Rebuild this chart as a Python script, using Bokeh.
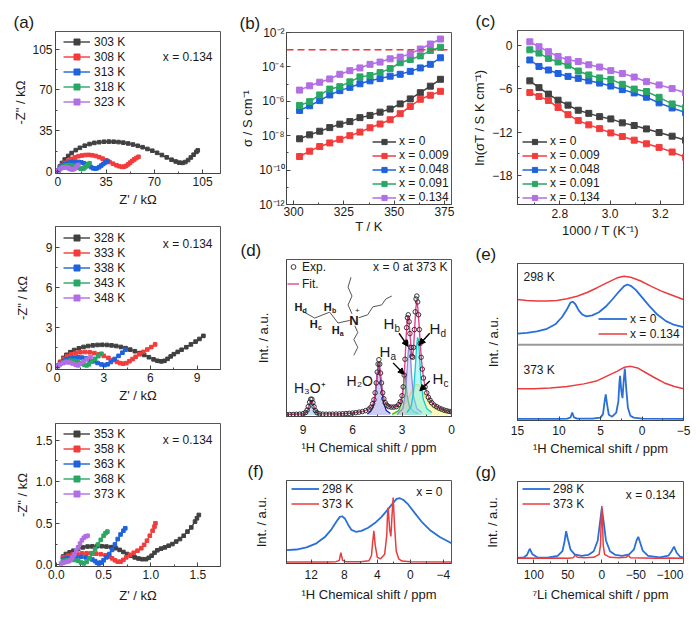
import math
from bokeh.plotting import figure
from bokeh.layouts import row, column
from bokeh.models import (Range1d, FixedTicker, Label, Legend, LegendItem, Span,
                          Arrow, NormalHead, PrintfTickFormatter)
from bokeh.embed import file_html
from bokeh.resources import INLINE
from bokeh.core.properties import value

FONT = "Liberation Sans"
TXT = "#1a1a1a"
C_BLACK = "#404040"
C_RED = "#f23c3c"
C_BLUE = "#1f62dc"
C_GREEN = "#2aa764"
C_PURPLE = "#b26ee4"
SER_COLORS = [C_BLACK, C_RED, C_BLUE, C_GREEN, C_PURPLE]
S_BLUE = "#2a6fd8"
S_RED = "#ea3b3e"

# ---------------- (a) Nyquist data, x = 0.134 ----------------
a1_temps = ["303 K", "308 K", "313 K", "318 K", "323 K"]
re_303 = [0.3, 1.5, 3.0, 5.0, 7.5, 10.0, 13.0, 16.0, 19.5, 23.0, 26.5, 30.0, 33.5, 37.0, 40.5, 44.0, 47.5, 51.0, 54.5, 58.0, 61.5, 65.0, 68.5, 72.0, 75.5, 79.0, 82.5, 85.5, 88.0, 90.5, 92.5, 94.5, 96.5, 98.5, 100.5, 101.5]
im_303 = [1.0, 4.5, 7.5, 10.5, 13.5, 16.0, 18.5, 20.5, 22.3, 23.7, 24.7, 25.3, 25.7, 25.8, 25.7, 25.4, 24.9, 24.2, 23.3, 22.2, 21.0, 19.5, 18.0, 16.2, 14.3, 12.3, 10.3, 8.8, 7.8, 7.6, 8.3, 10.0, 12.2, 14.6, 17.0, 18.3]
re_308 = [0.3, 1.5, 3.0, 5.0, 7.5, 10.0, 12.5, 15.0, 17.5, 20.0, 22.5, 25.0, 27.5, 30.0, 32.5, 35.0, 37.5, 40.0, 42.5, 44.5, 46.5, 48.0, 49.5, 51.0, 52.5, 54.0, 55.5, 57.0, 58.5]
im_308 = [1.0, 3.5, 5.6, 7.6, 9.5, 11.0, 12.3, 13.3, 13.9, 14.3, 14.4, 14.1, 13.5, 12.5, 11.2, 9.8, 8.3, 6.9, 5.6, 4.7, 4.2, 4.3, 5.0, 6.3, 7.8, 9.3, 10.6, 11.8, 12.8]
re_313 = [0.3, 1.5, 3.0, 5.0, 7.0, 9.0, 11.0, 13.0, 15.0, 17.0, 19.0, 21.0, 22.5, 24.0, 25.5, 27.0, 28.5, 30.0, 31.5, 33.0, 34.5, 36.0]
im_313 = [1.0, 3.0, 4.8, 6.3, 7.3, 8.0, 8.4, 8.5, 8.4, 8.0, 7.3, 6.3, 5.2, 4.0, 3.0, 2.6, 3.0, 4.0, 5.3, 6.7, 8.0, 9.2]
re_318 = [0.3, 1.5, 3.0, 4.5, 6.0, 7.5, 9.0, 10.5, 12.0, 13.5, 15.0, 16.5, 18.0, 19.0, 20.0, 21.0, 22.0, 23.0]
im_318 = [1.0, 2.6, 3.9, 4.8, 5.3, 5.6, 5.6, 5.4, 5.0, 4.3, 3.4, 2.7, 2.5, 3.0, 4.0, 5.2, 6.3, 7.3]
re_323 = [0.3, 1.2, 2.4, 3.6, 4.8, 6.0, 7.2, 8.4, 9.6, 10.8, 12.0, 13.0, 14.0, 14.8]
im_323 = [1.0, 2.0, 3.0, 3.6, 3.9, 3.8, 3.4, 2.7, 2.1, 1.9, 2.5, 3.6, 4.8, 5.8]

a2_temps = ["328 K", "333 K", "338 K", "343 K", "348 K"]
re_328 = [0.05, 0.2, 0.4, 0.6, 0.85, 1.1, 1.4, 1.7, 2.0, 2.3, 2.6, 2.9, 3.2, 3.5, 3.8, 4.1, 4.4, 4.7, 5.0, 5.3, 5.6, 5.9, 6.2, 6.45, 6.7, 6.9, 7.1, 7.3, 7.5, 7.75, 8.0, 8.3, 8.6, 8.9, 9.15, 9.4]
im_328 = [0.15, 0.45, 0.75, 0.98, 1.18, 1.34, 1.47, 1.57, 1.64, 1.69, 1.72, 1.73, 1.72, 1.69, 1.64, 1.57, 1.48, 1.37, 1.25, 1.11, 0.97, 0.80, 0.64, 0.53, 0.49, 0.53, 0.68, 0.86, 1.03, 1.20, 1.36, 1.55, 1.76, 1.97, 2.17, 2.40]
re_333 = [0.05, 0.2, 0.4, 0.65, 0.9, 1.2, 1.5, 1.8, 2.1, 2.4, 2.7, 3.0, 3.3, 3.6, 3.85, 4.05, 4.25, 4.45, 4.65, 4.85, 5.05, 5.3, 5.55, 5.8, 6.05, 6.3]
im_333 = [0.15, 0.42, 0.68, 0.88, 1.02, 1.12, 1.17, 1.19, 1.17, 1.11, 1.02, 0.90, 0.75, 0.58, 0.45, 0.36, 0.32, 0.36, 0.50, 0.66, 0.83, 1.02, 1.20, 1.38, 1.56, 1.76]
re_338 = [0.05, 0.2, 0.4, 0.6, 0.85, 1.1, 1.35, 1.6, 1.85, 2.1, 2.35, 2.6, 2.85, 3.05, 3.25, 3.45, 3.7, 3.95, 4.2, 4.4]
im_338 = [0.15, 0.35, 0.50, 0.62, 0.71, 0.77, 0.79, 0.77, 0.71, 0.62, 0.50, 0.37, 0.26, 0.21, 0.27, 0.44, 0.67, 0.90, 1.14, 1.36]
re_343 = [0.05, 0.2, 0.4, 0.6, 0.85, 1.1, 1.35, 1.55, 1.75, 1.9, 2.05, 2.25, 2.45, 2.65, 2.85]
im_343 = [0.15, 0.30, 0.42, 0.50, 0.55, 0.54, 0.47, 0.36, 0.23, 0.19, 0.27, 0.48, 0.68, 0.88, 1.06]
re_348 = [0.05, 0.2, 0.4, 0.6, 0.8, 1.0, 1.2, 1.35, 1.5, 1.7, 1.9, 2.15]
im_348 = [0.15, 0.27, 0.36, 0.42, 0.41, 0.33, 0.23, 0.19, 0.30, 0.48, 0.64, 0.81]

a3_temps = ["353 K", "358 K", "363 K", "368 K", "373 K"]
re_353 = [0.07, 0.10, 0.14, 0.18, 0.23, 0.28, 0.33, 0.38, 0.43, 0.48, 0.53, 0.58, 0.63, 0.67, 0.71, 0.75, 0.79, 0.83, 0.87, 0.91, 0.95, 0.98, 1.01, 1.04, 1.07, 1.11, 1.15, 1.19, 1.23, 1.27, 1.31, 1.35, 1.39, 1.43, 1.47, 1.49, 1.51]
im_353 = [0.10, 0.13, 0.15, 0.17, 0.19, 0.21, 0.22, 0.222, 0.224, 0.224, 0.22, 0.213, 0.20, 0.18, 0.155, 0.13, 0.11, 0.09, 0.076, 0.068, 0.068, 0.085, 0.11, 0.145, 0.175, 0.195, 0.21, 0.23, 0.25, 0.28, 0.31, 0.35, 0.40, 0.45, 0.52, 0.56, 0.60]
re_358 = [0.07, 0.12, 0.17, 0.22, 0.27, 0.32, 0.37, 0.42, 0.47, 0.52, 0.56, 0.59, 0.62, 0.65, 0.68, 0.71, 0.74, 0.78, 0.82, 0.86, 0.90, 0.93, 0.96, 0.99, 1.02, 1.04, 1.05]
im_358 = [0.09, 0.11, 0.125, 0.133, 0.138, 0.14, 0.14, 0.135, 0.128, 0.115, 0.098, 0.078, 0.055, 0.038, 0.038, 0.06, 0.09, 0.12, 0.145, 0.17, 0.20, 0.24, 0.29, 0.35, 0.41, 0.46, 0.50]
re_363 = [0.07, 0.11, 0.16, 0.21, 0.26, 0.31, 0.35, 0.38, 0.41, 0.43, 0.45, 0.47, 0.50, 0.53, 0.56, 0.59, 0.62, 0.65, 0.68, 0.71, 0.73]
im_363 = [0.068, 0.08, 0.088, 0.094, 0.096, 0.09, 0.08, 0.064, 0.045, 0.025, 0.016, 0.027, 0.055, 0.09, 0.13, 0.18, 0.245, 0.31, 0.365, 0.41, 0.44]
re_368 = [0.07, 0.11, 0.15, 0.19, 0.23, 0.26, 0.29, 0.32, 0.35, 0.38, 0.41, 0.44, 0.47, 0.50, 0.52, 0.54]
im_368 = [0.048, 0.055, 0.06, 0.058, 0.048, 0.028, 0.017, 0.035, 0.08, 0.135, 0.19, 0.245, 0.30, 0.35, 0.38, 0.40]
re_373 = [0.05, 0.07, 0.09, 0.11, 0.13, 0.15, 0.17, 0.19, 0.21, 0.23, 0.25, 0.27, 0.29, 0.31, 0.33]
im_373 = [0.016, 0.024, 0.032, 0.037, 0.043, 0.058, 0.09, 0.125, 0.17, 0.21, 0.255, 0.295, 0.325, 0.342, 0.35]

# ---------------- (b)/(c) conductivity ----------------
T_K = [303, 308, 313, 318, 323, 328, 333, 338, 343, 348, 353, 358, 363, 368, 373]
comp_labels = ["x = 0", "x = 0.009", "x = 0.048", "x = 0.091", "x = 0.134"]
log_sigma_x0 = [-8.18, -7.95, -7.74, -7.53, -7.33, -7.18, -6.95, -6.82, -6.63, -6.45, -6.15, -5.86, -5.50, -5.12, -4.72]
log_sigma_x009 = [-9.21, -8.90, -8.63, -8.42, -8.21, -8.00, -7.79, -7.54, -7.32, -7.07, -6.72, -6.30, -5.88, -5.65, -5.42]
log_sigma_x048 = [-6.53, -6.26, -5.96, -5.63, -5.38, -5.19, -4.98, -4.81, -4.68, -4.54, -4.43, -4.26, -4.06, -3.85, -3.47]
log_sigma_x091 = [-6.24, -6.02, -5.63, -5.29, -5.15, -4.87, -4.58, -4.50, -4.33, -4.10, -3.76, -3.57, -3.36, -3.05, -2.86]
log_sigma_x134 = [-5.35, -5.10, -4.89, -4.70, -4.43, -4.22, -4.06, -3.85, -3.72, -3.53, -3.43, -3.24, -2.96, -2.67, -2.38]
sigma_ref = 1e-3

# ---------------- (d) 1H NMR fit, x = 0 at 373 K ----------------
d_exp_ppm = [10.0, 9.8, 9.6, 9.4, 9.2, 9.0, 8.85, 8.75, 8.68, 8.6, 8.53, 8.46, 8.4, 8.33, 8.25, 8.15, 8.0, 7.8, 7.6, 7.4,
             7.2, 7.0, 6.8, 6.6, 6.4, 6.2, 6.0, 5.8, 5.6, 5.4, 5.2, 5.0, 4.88, 4.78, 4.7, 4.63, 4.56, 4.5, 4.45, 4.4,
             4.35, 4.3, 4.24, 4.17, 4.1, 4.02, 3.92, 3.8, 3.65, 3.5, 3.35, 3.2, 3.1, 3.0, 2.93, 2.87, 2.82, 2.77, 2.72, 2.67,
             2.62, 2.57, 2.52, 2.46, 2.4, 2.35, 2.3, 2.25, 2.2, 2.15, 2.1, 2.05, 2.0, 1.95, 1.9, 1.84, 1.77, 1.7, 1.6, 1.5,
             1.4, 1.3, 1.2, 1.05, 0.9, 0.75, 0.6, 0.45, 0.3, 0.15, 0.0]
d_exp_int = [2.0, 2.0, 2.1, 2.2, 2.4, 2.8, 4, 6.5, 10, 14.5, 17.5, 17.5, 14, 10, 6, 3.8, 2.8, 2.4, 2.3, 2.3,
             2.4, 2.5, 2.6, 2.8, 3.0, 3.2, 3.5, 3.9, 4.4, 5.0, 6.0, 7.5, 9.5, 13, 17, 24, 34, 45, 53, 57.5,
             53, 44, 34, 24, 18, 14, 11.5, 10, 9.5, 9.5, 10, 12, 15, 21, 30, 42, 58, 75, 90, 100,
             103, 96, 84, 70, 61, 60, 70, 88, 106, 119, 122, 116, 103, 88, 74, 60, 48, 39, 30, 24,
             19.5, 16.5, 14, 11.5, 10, 8.5, 7.5, 6.5, 5.8, 5.2, 4.7]
d_fit_ppm = [10.0, 9.0, 8.8, 8.7, 8.6, 8.5, 8.4, 8.3, 8.15, 8.0, 7.0, 6.0, 5.4, 5.0, 4.8, 4.7, 4.6, 4.5, 4.42, 4.35,
             4.25, 4.15, 4.05, 3.9, 3.7, 3.5, 3.3, 3.15, 3.0, 2.9, 2.82, 2.75, 2.68, 2.63, 2.57, 2.5, 2.43, 2.37, 2.3, 2.23,
             2.16, 2.1, 2.04, 1.97, 1.9, 1.82, 1.72, 1.6, 1.45, 1.3, 1.1, 0.9, 0.6, 0.3, 0.0]
d_fit_int = [2.0, 2.8, 4.5, 7, 13, 16.5, 13.5, 8, 4, 2.9, 2.5, 3.5, 5, 7.5, 11, 16, 27, 43, 54, 51,
             35, 22, 15, 11.5, 9.8, 9.5, 10.5, 13, 20, 33, 55, 80, 98, 102, 95, 80, 66, 60, 68, 90,
             110, 117, 110, 94, 76, 57, 42, 30, 22, 16.5, 12.5, 10, 7.5, 5.8, 4.7]
h3o_ppm = [9.0, 8.8, 8.7, 8.6, 8.5, 8.4, 8.3, 8.2, 8.0]
h3o_int = [2, 4, 7, 13, 16.5, 13, 7, 4, 2]
h2o_ppm = [5.1, 4.9, 4.75, 4.62, 4.52, 4.42, 4.34, 4.24, 4.12, 3.95, 3.7]
h2o_int = [2.5, 5, 10, 22, 40, 54, 46, 28, 14, 6, 3]
ha_ppm = [3.6, 3.2, 3.05, 2.95, 2.88, 2.83, 2.77, 2.68, 2.55, 2.3, 2.0]
ha_int = [2, 6, 13, 25, 38, 44, 36, 20, 10, 5, 3]
hb_ppm = [3.3, 2.95, 2.8, 2.7, 2.62, 2.56, 2.5, 2.42, 2.3, 2.1, 1.8]
hb_int = [2, 8, 22, 45, 66, 73, 65, 42, 20, 8, 4]
hd_ppm = [2.7, 2.45, 2.3, 2.2, 2.12, 2.06, 2.0, 1.93, 1.85, 1.72, 1.5, 1.2]
hd_int = [4, 10, 25, 48, 70, 80, 78, 60, 36, 18, 8, 4]
hc_ppm = [3.6, 3.2, 2.9, 2.6, 2.35, 2.15, 2.0, 1.8, 1.55, 1.3, 1.0, 0.6, 0.2]
hc_int = [3, 6, 11, 19, 28, 32.5, 32, 27, 19, 12, 7.5, 5, 3.5]

# tetrabutylammonium sketch (panel d coordinates: ppm, a.u.)
mol_xs = [[9.04, 8.29, 7.38, 6.88, 6.17],
          [6.03, 6.27, 6.03, 6.27, 6.09],
          [5.62, 5.08, 4.77, 4.23, 3.98, 3.62],
          [5.86, 5.68, 5.92, 5.68, 5.92]]
mol_ys = [[106.7, 99.7, 105.7, 94.7, 97.3],
          [104, 113, 122, 131, 141],
          [100, 103, 111, 113, 119, 122],
          [92, 85, 78, 70, 62]]

# ---------------- (e) 1H spectra, x = 0 vs x = 0.134 ----------------
e298_red_ppm = [15, 13.87, 12.66, 11.46, 10.25, 9.04, 7.83, 6.62, 5.40, 4.19, 2.98, 2.17, 1.36, 0.15, -1.06, -2.27, -3.48, -5.0]
e298_red_int = [380, 377, 375, 375, 377, 382, 390, 402, 417, 433, 448, 453, 450, 438, 422, 407, 395, 380]
e298_blue_ppm = [15, 13.87, 12.66, 11.45, 10.44, 9.63, 9.02, 8.62, 8.34, 8.02, 7.61, 7.21, 6.69, 6.00, 5.19, 4.39, 3.58, 2.77, 2.16, 1.76, 1.35, 0.75, -0.06, -0.87, -1.88, -2.89, -3.90, -5.0]
e298_blue_int = [273, 275, 280, 288, 302, 325, 350, 370, 373, 365, 345, 333, 327, 330, 340, 357, 380, 405, 422, 427, 423, 410, 385, 360, 332, 312, 300, 293]
e373_red_ppm = [15, 13.06, 11.04, 9.02, 7.0, 5.38, 4.17, 2.96, 2.15, 1.35, 0.54, -0.47, -1.48, -2.70, -3.91, -5.0]
e373_red_int = [100, 100, 102, 107, 115, 125, 140, 155, 167, 170, 165, 150, 135, 118, 107, 100]
e373_blue_ppm = [15, 10, 9.0, 8.6, 8.41, 8.2, 7.8, 6.0, 5.0, 4.7, 4.5, 4.37, 4.2, 4.0, 3.6, 3.1, 2.85, 2.72, 2.64, 2.5, 2.35, 2.22, 2.07, 1.9, 1.7, 1.4, 1.0, 0.0, -5.0]
e373_blue_int = [5, 5, 6, 10, 25, 10, 6, 6, 9, 20, 60, 82, 50, 18, 12, 25, 60, 120, 140, 95, 70, 120, 163, 100, 40, 15, 9, 6, 5]
e_divider = 238

# ---------------- (f) 1H spectra x = 0 ----------------
f298_ppm = [15, 13.79, 12.58, 11.37, 10.35, 9.55, 8.94, 8.54, 8.26, 7.93, 7.53, 7.12, 6.60, 5.91, 5.10, 4.29, 3.48, 2.68, 2.07, 1.66, 1.26, 0.86, 0.25, -0.56, -1.36, -2.37, -3.58, -5.0]
f298_int = [43, 45, 52, 65, 85, 110, 135, 150, 152, 145, 125, 108, 102, 105, 115, 130, 150, 175, 195, 208, 210, 205, 190, 162, 135, 108, 85, 65]
f373_ppm = [15, 10, 9, 8.6, 8.41, 8.2, 7.8, 6, 5, 4.7, 4.55, 4.41, 4.25, 4.0, 3.6, 3.1, 2.85, 2.75, 2.68, 2.5, 2.35, 2.22, 2.07, 1.9, 1.7, 1.4, 1.0, 0, -5]
f373_int = [5, 5, 6, 10, 35, 10, 6, 6, 9, 25, 70, 105, 60, 20, 15, 30, 90, 160, 180, 110, 87, 150, 212, 120, 40, 15, 8, 6, 5]

# ---------------- (g) 7Li spectra x = 0.134 ----------------
g298_ppm = [124, 115, 110, 106, 102, 95, 80, 65, 58, 55, 52.5, 50, 46, 40, 30, 20, 12, 6, 3, 0, -3, -6, -12, -20, -30, -40, -47, -51, -53.5, -56, -60, -68, -85, -98, -102, -106, -110, -115, -120]
g298_int = [18, 20, 28, 48, 30, 20, 19, 25, 40, 70, 105, 80, 45, 30, 25, 28, 40, 75, 130, 180, 130, 75, 40, 28, 25, 30, 45, 75, 87, 70, 42, 25, 20, 26, 38, 55, 35, 22, 19]
g373_ppm = [124, 110, 90, 70, 50, 42, 39, 36, 25, 12, 4, 2, 0.8, 0, -0.8, -2, -4, -12, -25, -36, -39, -42, -60, -80, -100, -120]
g373_int = [17, 18, 17, 18, 17, 19, 28, 20, 19, 20, 30, 60, 150, 187, 150, 60, 30, 20, 19, 20, 27, 19, 18, 17, 18, 17]


# ================= helpers =================
def make_fig(w, h, xr, yr, left, right, top, bottom, y_type="linear"):
    p = figure(width=w, height=h, x_range=xr, y_range=yr, y_axis_type=y_type,
               output_backend="svg", toolbar_location=None,
               min_border_left=left, min_border_right=right,
               min_border_top=top, min_border_bottom=bottom)
    p.grid.visible = False
    p.outline_line_color = "#555555"
    p.outline_line_width = 1
    p.background_fill_color = "white"
    p.border_fill_color = "white"
    for ax in p.axis:
        ax.axis_line_color = "#444444"
        ax.major_tick_line_color = "#444444"
        ax.minor_tick_line_color = "#444444"
        ax.major_tick_in = 4
        ax.major_tick_out = 0
        ax.minor_tick_in = 2
        ax.minor_tick_out = 0
        ax.major_label_text_font = FONT
        ax.major_label_text_font_size = "12px"
        ax.major_label_text_color = TXT
        ax.axis_label_text_font = FONT
        ax.axis_label_text_font_size = "13px"
        ax.axis_label_text_font_style = "normal"
        ax.axis_label_text_color = TXT
        ax.major_label_standoff = 3
        ax.axis_label_standoff = 3
    return p


def panel_title(p, text, offset):
    p.title.text = text
    p.title.align = "left"
    p.title.offset = offset
    p.title.standoff = 0
    p.title.text_font = FONT
    p.title.text_font_size = "17px"
    p.title.text_font_style = "normal"
    p.title.text_color = TXT


def no_yticks(p, standoff):
    p.yaxis.ticker = FixedTicker(ticks=[], minor_ticks=[])
    p.yaxis.major_label_standoff = 0
    p.yaxis.axis_label_standoff = standoff


def slabel(p, text, x, y, size="12px", align="left", baseline="middle", color=TXT):
    p.add_layout(Label(x=x, y=y, x_units="screen", y_units="screen", text=text,
                       text_font=FONT, text_font_size=size, text_align=align,
                       text_baseline=baseline, text_color=color))


def add_legend(p, items, loc, glyph_w, row_h, standoff=4, size="12px", spacing=0):
    lg = Legend(items=items, location=loc)
    lg.border_line_alpha = 0
    lg.background_fill_alpha = 0
    lg.padding = 0
    lg.margin = 0
    lg.spacing = spacing
    lg.glyph_width = int(glyph_w)
    lg.glyph_height = int(row_h)
    lg.label_height = int(row_h)
    lg.label_standoff = int(standoff)
    lg.label_text_font = FONT
    lg.label_text_font_size = size
    lg.label_text_color = TXT
    lg.label_text_baseline = "middle"
    p.add_layout(lg)


def nyquist(p, series, labels, msize=3.6):
    items = []
    for (xs, ys), lab, c in zip(series, labels, SER_COLORS):
        l = p.line(xs, ys, line_color=c, line_width=1.4)
        s = p.scatter(xs, ys, marker="square", size=msize, fill_color=c, line_color=c)
        items.append(LegendItem(label=lab, renderers=[l, s]))
    return items


# ================= (a) =================
a1 = make_fig(237, 211, Range1d(-1.7, 118), Range1d(-1.5, 120), 55, 17, 31, 38)
a1.xaxis.ticker = FixedTicker(ticks=[0, 35, 70, 105], minor_ticks=[17.5, 52.5, 87.5])
a1.yaxis.ticker = FixedTicker(ticks=[0, 35, 70, 105], minor_ticks=[17.5, 52.5, 87.5])
a1.xaxis.axis_label = "Z' / k\u03a9"
a1.yaxis.axis_label = '-Z" / k\u03a9'
a1.yaxis.axis_label_standoff = 1
it = nyquist(a1, [(re_303, im_303), (re_308, im_308), (re_313, im_313), (re_318, im_318), (re_323, im_323)], a1_temps)
add_legend(a1, it, (8, 64), 27, 15)
slabel(a1, "x = 0.134", 157, 117, align="right")
panel_title(a1, "(a)", -42)

a2 = make_fig(237, 196, Range1d(-0.1, 10.5), Range1d(-0.12, 10.6), 55, 17, 15, 38)
a2.xaxis.ticker = FixedTicker(ticks=[0, 3, 6, 9], minor_ticks=[1.5, 4.5, 7.5])
a2.yaxis.ticker = FixedTicker(ticks=[0, 3, 6, 9], minor_ticks=[1.5, 4.5, 7.5])
a2.xaxis.axis_label = "Z' / k\u03a9"
a2.yaxis.axis_label = '-Z" / k\u03a9'
a2.yaxis.axis_label_standoff = 13
it = nyquist(a2, [(re_328, im_328), (re_333, im_333), (re_338, im_338), (re_343, im_343), (re_348, im_348)], a2_temps)
add_legend(a2, it, (8, 64), 27, 15)
slabel(a2, "x = 0.134", 157, 126, align="right")

a3 = make_fig(237, 205, Range1d(-0.01, 1.74), Range1d(-0.02, 1.7), 55, 17, 16, 46)
a3.xaxis.ticker = FixedTicker(ticks=[0, 0.5, 1.0, 1.5], minor_ticks=[0.25, 0.75, 1.25])
a3.yaxis.ticker = FixedTicker(ticks=[0, 0.5, 1.0, 1.5], minor_ticks=[0.25, 0.75, 1.25])
a3.xaxis.formatter = PrintfTickFormatter(format="%.1f")
a3.yaxis.formatter = PrintfTickFormatter(format="%.1f")
a3.xaxis.axis_label = "Z' / k\u03a9"
a3.yaxis.axis_label = '-Z" / k\u03a9'
a3.yaxis.axis_label_standoff = 3
a3.xaxis.axis_label_standoff = 6
it = nyquist(a3, [(re_353, im_353), (re_358, im_358), (re_363, im_363), (re_368, im_368), (re_373, im_373)], a3_temps)
add_legend(a3, it, (8, 65), 27, 15)
slabel(a3, "x = 0.134", 157, 127, align="right")

# ================= (b) =================
b = make_fig(229, 238, Range1d(296.5, 378.5), Range1d(1e-12, 1e-2), 48, 15, 32, 34, y_type="log")
b.xaxis.ticker = FixedTicker(ticks=[300, 325, 350, 375], minor_ticks=[312.5, 337.5, 362.5])
dec_major = [1e-12, 1e-10, 1e-8, 1e-6, 1e-4, 1e-2]
dec_minor = [1e-11, 1e-9, 1e-7, 1e-5, 1e-3]
b.yaxis.ticker = FixedTicker(ticks=dec_major, minor_ticks=dec_minor)
b.yaxis.major_label_overrides = {1e-12: "10\u207b\u00b9\u00b2", 1e-10: "10\u207b\u00b9\u2070",
                                 1e-8: "10\u207b\u2078", 1e-6: "10\u207b\u2076",
                                 1e-4: "10\u207b\u2074", 1e-2: "10\u207b\u00b2"}
b.xaxis.axis_label = "T / K"
b.yaxis.axis_label = "\u03c3 / S cm\u207b\u00b9"
b.xaxis.major_label_standoff = 2
b.xaxis.axis_label_standoff = 0
b.yaxis.axis_label_standoff = 1
b.yaxis.major_label_standoff = 2
b.add_layout(Span(location=sigma_ref, dimension="width", line_color="#e8383a",
                  line_dash="7 4", line_width=1.5))
items = []
for ls, lab, c in zip([log_sigma_x0, log_sigma_x009, log_sigma_x048, log_sigma_x091, log_sigma_x134],
                      comp_labels, SER_COLORS):
    sig = [10 ** v for v in ls]
    l = b.line(T_K, sig, line_color=c, line_width=1.5)
    s = b.scatter(T_K, sig, marker="square", size=6, fill_color=c, line_color=c)
    items.append(LegendItem(label=lab, renderers=[l, s]))
add_legend(b, items, (86, 0), 24, 13, standoff=3, spacing=-1)
panel_title(b, "(b)", -47)

# ================= (c) =================
c = make_fig(226, 242, Range1d(2.632, 3.292), Range1d(-22, 2), 51, 9, 30, 38)
c.xaxis.ticker = FixedTicker(ticks=[2.8, 3.0, 3.2], minor_ticks=[2.7, 2.9, 3.1])
c.xaxis.formatter = PrintfTickFormatter(format="%.1f")
c.yaxis.ticker = FixedTicker(ticks=[0, -6, -12, -18], minor_ticks=[-3, -9, -15, -21])
c.xaxis.axis_label = "1000 / T (K\u207b\u00b9)"
c.yaxis.axis_label = "ln(\u03c3T / S K cm\u207b\u00b9)"
c.xaxis.major_label_standoff = 4
c.xaxis.axis_label_standoff = 2
c.yaxis.major_label_standoff = 5
c.yaxis.axis_label_standoff = 2
inv_T = [1000.0 / t for t in T_K]
items = []
for ls, lab, col in zip([log_sigma_x0, log_sigma_x009, log_sigma_x048, log_sigma_x091, log_sigma_x134],
                        comp_labels, SER_COLORS):
    lnst = [math.log((10 ** v) * t) for v, t in zip(ls, T_K)]
    l = c.line(inv_T, lnst, line_color=col, line_width=1.5)
    s = c.scatter(inv_T, lnst, marker="square", size=6, fill_color=col, line_color=col)
    items.append(LegendItem(label=lab, renderers=[l, s]))
add_legend(c, items, (5, 0), 25, 13, standoff=3, spacing=-1)
panel_title(c, "(c)", -42)

# ================= (d) =================
d = make_fig(229, 221, Range1d(10, 0), Range1d(0, 159), 49, 14, 20, 43)
d.xaxis.ticker = FixedTicker(ticks=[9, 6, 3, 0], minor_ticks=[7.5, 4.5, 1.5])
d.xaxis.axis_label = "\u00b9H Chemical shift / ppm"
d.yaxis.axis_label = "Int. / a.u."
d.xaxis.major_label_standoff = 8
d.xaxis.axis_label_standoff = 3
no_yticks(d, 16)
comps = [(h3o_ppm, h3o_int, "#86b8e6", "#3c7fc4"),
         (h2o_ppm, h2o_int, "#8f8fe8", "#1e1eb4"),
         (hc_ppm, hc_int, "#f4f47a", "#e2e24c"),
         (ha_ppm, ha_int, "#98ec98", "#2fc23a"),
         (hb_ppm, hb_int, "#b4b4f2", "#8a8ad8"),
         (hd_ppm, hd_int, "#6ef0f0", "#12cccc")]
for xs, ys, fc, lc in comps:
    d.varea(x=xs, y1=1.5, y2=ys, fill_color=fc, fill_alpha=0.45)
    d.line(xs, ys, line_color=lc, line_width=1.3)
fit_r = d.line(d_fit_ppm, d_fit_int, line_color="#e3448e", line_width=1.4)
exp_r = d.scatter(d_exp_ppm, d_exp_int, marker="circle", size=4.5, fill_color=None,
                  line_color="#222222", line_width=0.9)
d.multi_line(xs=mol_xs, ys=mol_ys, line_color="#555555", line_width=1)
d.text(x=[5.92], y=[97.3], text=["N"], text_font=value(FONT), text_font_size=value("13px"),
       text_font_style="bold", text_align="center", text_baseline="middle", text_color=TXT)
d.text(x=[5.70], y=[107], text=["+"], text_font=value(FONT), text_font_size=value("8px"),
       text_align="center", text_baseline="middle", text_color=TXT)


def h_label(p, x, y, sub, size, bold=False, sub_size=None):
    sub_size = sub_size or int(size * 0.68)
    st = "bold" if bold else "normal"
    p.text(x=[x], y=[y], text=["H"], text_font=value(FONT), text_font_size=value(f"{size}px"),
           text_font_style=st, text_align="center", text_baseline="middle", text_color=TXT)
    p.text(x=[x], y=[y], text=[sub], text_font=value(FONT), text_font_size=value(f"{sub_size}px"),
           text_font_style=st, text_align="left", text_baseline="middle", text_color=TXT,
           x_offset=size * 0.38, y_offset=size * 0.32)


# structure labels
h_label(d, 9.28, 111.3, "d", 11, bold=True)
h_label(d, 8.35, 93.3, "c", 11, bold=True)
h_label(d, 7.50, 110.7, "b", 11, bold=True)
h_label(d, 7.02, 88.0, "a", 11, bold=True)
# peak labels
h_label(d, 4.04, 66.0, "a", 15)
h_label(d, 3.80, 94.3, "b", 15)
h_label(d, 1.01, 89.3, "d", 15)
h_label(d, 0.83, 38.7, "c", 15)
d.text(x=[8.59, 5.56], y=[29.3, 36.0], text=["H\u2083O\u207a", "H\u2082O"], text_font=value(FONT),
       text_font_size=value("14px"), text_align="center", text_baseline="middle", text_color=TXT)
for xs0, ys0, xe, ye in [(3.54, 54.3, 2.87, 42.7), (3.18, 84.3, 2.63, 71.0),
                         (1.32, 84.3, 1.96, 72.7), (1.32, 36.0, 1.92, 26.0)]:
    d.add_layout(Arrow(end=NormalHead(size=6, fill_color="black", line_color="black"),
                       x_start=xs0, y_start=ys0, x_end=xe, y_end=ye,
                       line_color="black", line_width=1.4))
add_legend(d, [LegendItem(label="Exp.", renderers=[exp_r]), LegendItem(label="Fit.", renderers=[fit_r])],
           (1, 124), 12, 17, standoff=3)
slabel(d, "x = 0 at 373 K", 161, 150, align="right")
panel_title(d, "(d)", -46)

# ================= (e) =================
e = make_fig(226, 218, Range1d(15, -5), Range1d(0, 493), 51, 9, 20, 40)
e.xaxis.ticker = FixedTicker(ticks=[15, 10, 5, 0, -5], minor_ticks=[12.5, 7.5, 2.5, -2.5])
e.xaxis.axis_label = "\u00b9H Chemical shift / ppm"
e.yaxis.axis_label = "Int. / a.u."
e.xaxis.major_label_standoff = 5
e.xaxis.axis_label_standoff = 3
no_yticks(e, 17)
e.add_layout(Span(location=e_divider, dimension="width", line_color="#9a9a9a", line_width=2))
rb = e.line(e298_blue_ppm, e298_blue_int, line_color=S_BLUE, line_width=1.8)
rr = e.line(e298_red_ppm, e298_red_int, line_color=S_RED, line_width=1.5)
e.line(e373_red_ppm, e373_red_int, line_color=S_RED, line_width=1.5)
e.line(e373_blue_ppm, e373_blue_int, line_color=S_BLUE, line_width=1.8)
add_legend(e, [LegendItem(label="x = 0", renderers=[rb]), LegendItem(label="x = 0.134", renderers=[rr])],
           (81, 79), 29, 15, standoff=3)
slabel(e, "298 K", 6, 144)
slabel(e, "373 K", 6, 51)
panel_title(e, "(e)", -42)

# ================= (f) =================
f = make_fig(229, 153, Range1d(15, -5), Range1d(0, 267), 49, 14, 20, 49)
f.xaxis.ticker = FixedTicker(ticks=[12, 8, 4, 0, -4], minor_ticks=[10, 6, 2, -2])
f.xaxis.axis_label = "\u00b9H Chemical shift / ppm"
f.yaxis.axis_label = "Int. / a.u."
f.xaxis.major_label_standoff = 6
f.xaxis.axis_label_standoff = 5
no_yticks(f, 18)
r1 = f.line(f298_ppm, f298_int, line_color=S_BLUE, line_width=1.8)
r2 = f.line(f373_ppm, f373_int, line_color=S_RED, line_width=1.5)
add_legend(f, [LegendItem(label="298 K", renderers=[r1]), LegendItem(label="373 K", renderers=[r2])],
           (5, 52), 28, 15, standoff=3)
slabel(f, "x = 0", 156, 72, align="right")
panel_title(f, "(f)", -39)

# ================= (g) =================
g = make_fig(226, 152, Range1d(124, -120), Range1d(0, 267), 51, 9, 20, 49)
g.xaxis.ticker = FixedTicker(ticks=[100, 50, 0, -50, -100], minor_ticks=[75, 25, -25, -75])
g.xaxis.axis_label = "\u2077Li Chemical shift / ppm"
g.yaxis.axis_label = "Int. / a.u."
g.xaxis.major_label_standoff = 6
g.xaxis.axis_label_standoff = 5
no_yticks(g, 18)
r1 = g.line(g298_ppm, g298_int, line_color=S_BLUE, line_width=1.8)
r2 = g.line(g373_ppm, g373_int, line_color=S_RED, line_width=1.5)
add_legend(g, [LegendItem(label="298 K", renderers=[r1]), LegendItem(label="373 K", renderers=[r2])],
           (5, 52), 28, 15, standoff=3)
slabel(g, "x = 0.134", 158, 69, align="right")
panel_title(g, "(g)", -42)

layout = row(column(a1, a2, a3), column(b, d, f), column(c, e, g))
open("out.html", "w").write(file_html(layout, INLINE))
